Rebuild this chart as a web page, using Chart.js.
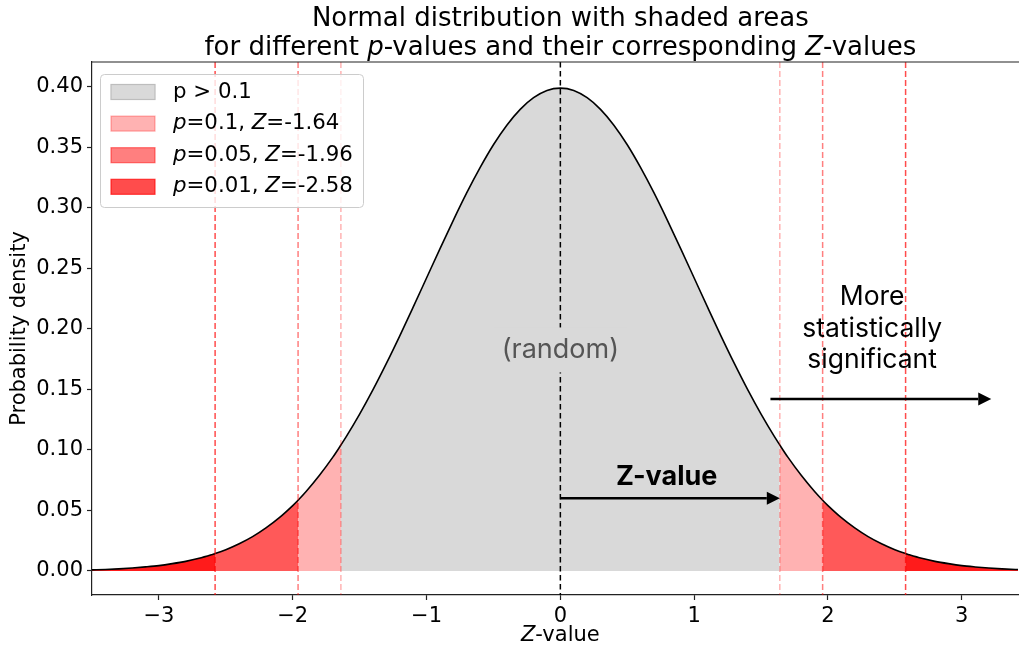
<!DOCTYPE html>
<html>
<head>
<meta charset="utf-8">
<script src="https://cdn.jsdelivr.net/npm/chart.js@4.4.1/dist/chart.umd.min.js"></script>
<style>
  html, body { margin: 0; padding: 0; background: #fff; }
  canvas { display: block; }
</style>
</head>
<body>
<canvas id="normChart" width="1019" height="650"></canvas>
<script>
// standard normal density, sampled every 0.1 plus the cut-off points
const zValues = [
  -3.5, -3.4, -3.3, -3.2, -3.1, -3.0, -2.9, -2.8, -2.7, -2.6, -2.58, -2.5,
  -2.4, -2.3, -2.2, -2.1, -2.0, -1.96, -1.9, -1.8, -1.7, -1.64, -1.6, -1.5,
  -1.4, -1.3, -1.2, -1.1, -1.0, -0.9, -0.8, -0.7, -0.6, -0.5, -0.4, -0.3,
  -0.2, -0.1, 0.0,
  0.1, 0.2, 0.3, 0.4, 0.5, 0.6, 0.7, 0.8, 0.9, 1.0, 1.1, 1.2, 1.3, 1.4,
  1.5, 1.6, 1.64, 1.7, 1.8, 1.9, 1.96, 2.0, 2.1, 2.2, 2.3, 2.4, 2.5, 2.58,
  2.6, 2.7, 2.8, 2.9, 3.0, 3.1, 3.2, 3.3, 3.4, 3.5
];
const density = [
  0.0009, 0.0012, 0.0017, 0.0024, 0.0033, 0.0044, 0.0060, 0.0079, 0.0104, 0.0136, 0.0143, 0.0175,
  0.0224, 0.0283, 0.0355, 0.0440, 0.0540, 0.0584, 0.0656, 0.0790, 0.0940, 0.1040, 0.1109, 0.1295,
  0.1497, 0.1714, 0.1942, 0.2179, 0.2420, 0.2661, 0.2897, 0.3123, 0.3332, 0.3521, 0.3683, 0.3814,
  0.3910, 0.3970, 0.3989,
  0.3970, 0.3910, 0.3814, 0.3683, 0.3521, 0.3332, 0.3123, 0.2897, 0.2661, 0.2420, 0.2179, 0.1942, 0.1714, 0.1497,
  0.1295, 0.1109, 0.1040, 0.0940, 0.0790, 0.0656, 0.0584, 0.0540, 0.0440, 0.0355, 0.0283, 0.0224, 0.0175, 0.0143,
  0.0136, 0.0104, 0.0079, 0.0060, 0.0044, 0.0033, 0.0024, 0.0017, 0.0012, 0.0009
];

const pLevels = ['0.1', '0.05', '0.01'];
const zCutoffs = [1.64, 1.96, 2.58];
const redAlpha = [0.3, 0.5, 0.7];

const xTicks = [-3, -2, -1, 0, 1, 2, 3];
const yTicks = [0, 0.05, 0.10, 0.15, 0.20, 0.25, 0.30, 0.35, 0.40];

const FONT = "'DejaVu Sans'";
const NOTE_FONT = "Inter";
const GRAY = '#d9d9d9';

const curve = zValues.map((z, i) => ({ x: z, y: density[i] }));

function region(from, to) {
  return curve.filter(p => p.x >= from - 1e-9 && p.x <= to + 1e-9);
}

function areaSet(data, color) {
  return {
    data: data,
    backgroundColor: color,
    borderWidth: 0,
    pointRadius: 0,
    fill: 'origin',
    cubicInterpolationMode: 'monotone'
  };
}

const datasets = [{
  data: curve,
  borderColor: '#000',
  borderWidth: 1.6,
  pointRadius: 0,
  fill: false,
  cubicInterpolationMode: 'monotone'
}];

datasets.push(areaSet(region(-zCutoffs[0], zCutoffs[0]), GRAY));
zCutoffs.forEach((z, i) => {
  const c = 'rgba(255,0,0,' + redAlpha[i] + ')';
  datasets.push(areaSet(region(-9, -z), c));
  datasets.push(areaSet(region(z, 9), c));
});

// text with mixed italic / bold pieces
function drawRich(ctx, parts, x, y, size, family, align) {
  let total = 0;
  const widths = parts.map(([t, st]) => {
    ctx.font = (st || '') + ' ' + size + 'px ' + family;
    const w = ctx.measureText(t).width;
    total += w;
    return w;
  });
  let cx = align === 'center' ? x - total / 2 : (align === 'right' ? x - total : x);
  ctx.textAlign = 'left';
  ctx.textBaseline = 'middle';
  parts.forEach(([t, st], i) => {
    ctx.font = (st || '') + ' ' + size + 'px ' + family;
    ctx.fillText(t, cx, y);
    cx += widths[i];
  });
  return total;
}

function arrow(ctx, x0, y0, x1, y1) {
  const head = 13, half = 6.5;
  ctx.save();
  ctx.strokeStyle = '#000';
  ctx.fillStyle = '#000';
  ctx.lineWidth = 2.6;
  ctx.beginPath();
  ctx.moveTo(x0, y0);
  ctx.lineTo(x1 - head, y1);
  ctx.stroke();
  ctx.beginPath();
  ctx.moveTo(x1, y1);
  ctx.lineTo(x1 - head, y1 - half);
  ctx.lineTo(x1 - head, y1 + half);
  ctx.closePath();
  ctx.fill();
  ctx.restore();
}

const legendItems = [
  { fill: GRAY, edge: '#bdbdbd', parts: [['p > 0.1', '']] },
  { fill: 'rgba(255,0,0,0.3)', edge: 'rgba(255,0,0,0.3)', parts: [['p', 'italic'], ['=0.1, ', ''], ['Z', 'italic'], ['=-1.64', '']] },
  { fill: 'rgba(255,0,0,0.5)', edge: 'rgba(255,0,0,0.5)', parts: [['p', 'italic'], ['=0.05, ', ''], ['Z', 'italic'], ['=-1.96', '']] },
  { fill: 'rgba(255,0,0,0.7)', edge: 'rgba(255,0,0,0.7)', parts: [['p', 'italic'], ['=0.01, ', ''], ['Z', 'italic'], ['=-2.58', '']] }
];

const decorations = {
  id: 'decorations',
  afterDatasetsDraw(chart) {
    const { ctx, chartArea: a, scales: { x, y } } = chart;

    // cut-off lines
    ctx.save();
    ctx.beginPath();
    ctx.rect(a.left, a.top, a.right - a.left, a.bottom - a.top);
    ctx.clip();
    ctx.lineWidth = 1.5;
    ctx.setLineDash([6, 3]);
    zCutoffs.forEach((z, i) => {
      ctx.strokeStyle = 'rgba(255,0,0,' + redAlpha[i] + ')';
      [-z, z].forEach(v => {
        const px = x.getPixelForValue(v);
        ctx.beginPath();
        ctx.moveTo(px, a.top);
        ctx.lineTo(px, a.bottom);
        ctx.stroke();
      });
    });
    ctx.strokeStyle = '#000';
    ctx.setLineDash([5.5, 3.5]);
    const x0 = x.getPixelForValue(0);
    ctx.beginPath();
    ctx.moveTo(x0, a.top);
    ctx.lineTo(x0, a.bottom);
    ctx.stroke();
    ctx.setLineDash([]);

    // "(random)" label on a box of the fill colour
    ctx.font = '27px ' + NOTE_FONT;
    const rw = ctx.measureText('(random)').width;
    const ry = y.getPixelForValue(0.183);
    ctx.fillStyle = GRAY;
    ctx.fillRect(x0 - rw / 2 - 8, ry - 22, rw + 16, 45);
    ctx.fillStyle = '#555';
    drawRich(ctx, [['(random)', '']], x0, ry, 27, NOTE_FONT, 'center');

    // arrows and notes
    const ya = y.getPixelForValue(0.060);
    arrow(ctx, x0, ya, x.getPixelForValue(1.64), ya);
    ctx.fillStyle = '#000';
    drawRich(ctx, [['Z-value', 'bold']], x.getPixelForValue(0.795), y.getPixelForValue(0.0777), 27, NOTE_FONT, 'center');

    const yb = y.getPixelForValue(0.142);
    arrow(ctx, x.getPixelForValue(1.57), yb, x.getPixelForValue(3.22), yb);
    const xm = x.getPixelForValue(2.33);
    const ym = y.getPixelForValue(0.2);
    ['More', 'statistically', 'significant'].forEach((t, i) => {
      drawRich(ctx, [[t, '']], xm, ym + (i - 1) * 31.5, 26.5, NOTE_FONT, 'center');
    });
    ctx.restore();

    // legend
    const lx = a.left + 8, ly = a.top + 12, lw = 263, lh = 133;
    ctx.save();
    ctx.fillStyle = 'rgba(255,255,255,0.8)';
    ctx.strokeStyle = '#cccccc';
    ctx.lineWidth = 1;
    ctx.beginPath();
    ctx.roundRect(lx + 0.5, ly + 0.5, lw, lh, 4);
    ctx.fill();
    ctx.stroke();
    legendItems.forEach((item, i) => {
      const cy = ly + 18 + i * 31.6;
      ctx.fillStyle = item.fill;
      ctx.fillRect(lx + 11, cy - 7.5, 44, 15);
      ctx.strokeStyle = item.edge;
      ctx.lineWidth = 1.2;
      ctx.strokeRect(lx + 11, cy - 7.5, 44, 15);
      ctx.fillStyle = '#000';
      drawRich(ctx, item.parts, lx + 73, cy, 21.3, FONT, 'left');
    });
    ctx.restore();

    // top spine
    ctx.save();
    ctx.strokeStyle = '#222';
    ctx.lineWidth = 1.2;
    ctx.beginPath();
    ctx.moveTo(a.left, a.top);
    ctx.lineTo(a.right + 1, a.top);
    ctx.stroke();
    ctx.restore();
  },
  afterDraw(chart) {
    const { ctx, chartArea: a, scales: { x } } = chart;
    const cx = x.getPixelForValue(0);
    ctx.save();
    ctx.fillStyle = '#000';
    drawRich(ctx, [['Normal distribution with shaded areas', '']], cx, 19, 26, FONT, 'center');
    drawRich(ctx, [['for different ', ''], ['p', 'italic'], ['-values and their corresponding ', ''], ['Z', 'italic'], ['-values', '']],
      cx, 48, 26, FONT, 'center');
    drawRich(ctx, [['Z', 'italic'], ['-value', '']], cx, 636, 21, FONT, 'center');
    ctx.translate(20, (a.top + a.bottom) / 2);
    ctx.rotate(-Math.PI / 2);
    drawRich(ctx, [['Probability density', '']], 0, 0, 21, FONT, 'center');
    ctx.restore();
  }
};

function axisStyle() {
  return {
    grid: { drawOnChartArea: false, drawTicks: true, tickLength: 5, tickColor: '#222', tickWidth: 1.2 },
    border: { display: true, color: '#222', width: 1.2 },
    ticks: { font: { family: 'DejaVu Sans', size: 21 }, color: '#000', padding: 4, maxRotation: 0, autoSkip: false }
  };
}

const xAxis = axisStyle();
xAxis.type = 'linear';
xAxis.min = -3.5;
xAxis.max = 3.42;
xAxis.afterBuildTicks = s => { s.ticks = xTicks.map(v => ({ value: v })); };
xAxis.afterFit = s => { s.height = 55; };
xAxis.ticks.callback = v => (v < 0 ? '\u2212' + Math.abs(v) : String(v));

const yAxis = axisStyle();
yAxis.min = -0.0199;
yAxis.max = 0.4205;
yAxis.afterBuildTicks = s => { s.ticks = yTicks.map(v => ({ value: v })); };
yAxis.afterFit = s => { s.width = 92; };
yAxis.ticks.callback = v => v.toFixed(2);

new Chart(document.getElementById('normChart'), {
  type: 'line',
  data: { datasets: datasets },
  options: {
    responsive: false,
    animation: false,
    devicePixelRatio: 1,
    events: [],
    layout: { padding: { top: 62, right: 1, left: 0, bottom: 0 } },
    scales: { x: xAxis, y: yAxis },
    plugins: {
      legend: { display: false },
      tooltip: { enabled: false },
      title: { display: false }
    }
  },
  plugins: [decorations]
});
</script>
</body>
</html>
